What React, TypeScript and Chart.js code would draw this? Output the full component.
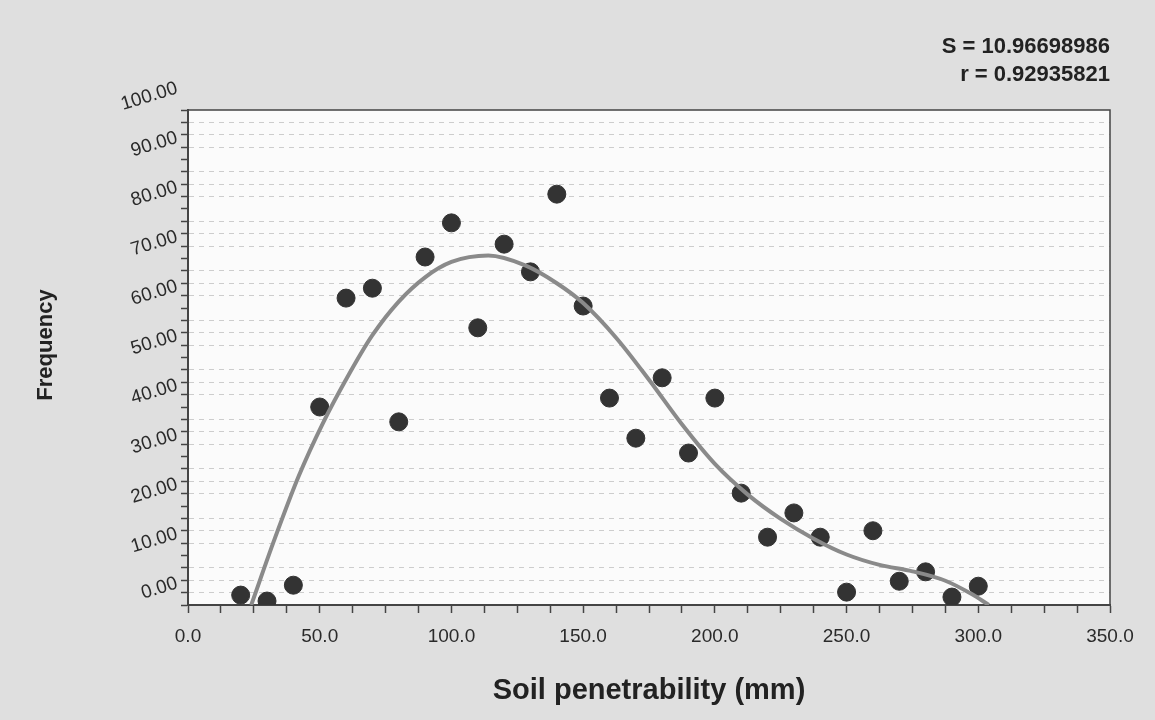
import React, { useEffect, useRef } from 'react';
import { Chart, registerables } from 'chart.js';

Chart.register(...registerables);

// Observed frequencies (scatter points)
const obsX = [20, 30, 40, 50, 60, 70, 80, 90, 100, 110, 120, 130, 140, 150, 160, 170, 180, 190, 200, 210, 220, 230, 240, 250, 260, 270, 280, 290, 300];
const obsY = [2.0, 0.8, 4.0, 40.0, 62.0, 64.0, 37.0, 70.3, 77.2, 56.0, 72.9, 67.3, 83.0, 60.4, 41.8, 33.7, 45.9, 30.7, 41.8, 22.6, 13.7, 18.6, 13.7, 2.6, 15.0, 4.8, 6.7, 1.6, 3.8];

// Fitted curve
const fitX = [24, 33, 42, 51, 61, 70, 80, 90, 100, 114, 128, 140, 150, 162.5, 175, 187.5, 200, 212.5, 225, 237.5, 250, 262.5, 275, 287.5, 297.5, 304];
const fitY = [0, 13.5, 26, 36.5, 46.5, 54.5, 61.3, 66.2, 69.3, 70.6, 68.6, 65, 61, 54, 45.5, 36.5, 28.5, 22.3, 17.4, 13.4, 10.2, 8.1, 6.8, 4.9, 2.2, 0];

const statLines = ['S = 10.96698986', 'r = 0.92935821'];
const xTitle = 'Soil penetrability (mm)';
const yTitle = 'Frequency';

const FONT = '"Liberation Sans", Arial, sans-serif';
const isMultiple = (v: number, m: number) => Math.abs(v / m - Math.round(v / m)) < 1e-6;

const framePlugin = {
  id: 'frame',
  beforeDraw(chart: any) {
    const { ctx, chartArea, width, height } = chart;
    ctx.save();
    ctx.fillStyle = '#dfdfdf';
    ctx.fillRect(0, 0, width, height);
    ctx.fillStyle = '#fbfbfb';
    ctx.fillRect(chartArea.left, chartArea.top, chartArea.right - chartArea.left, chartArea.bottom - chartArea.top);
    ctx.restore();
  },
  afterDraw(chart: any) {
    const { ctx, chartArea } = chart;
    ctx.save();
    ctx.strokeStyle = '#444';
    ctx.lineWidth = 1.5;
    ctx.beginPath();
    ctx.moveTo(chartArea.left, chartArea.top);
    ctx.lineTo(chartArea.right, chartArea.top);
    ctx.lineTo(chartArea.right, chartArea.bottom);
    ctx.stroke();
    ctx.fillStyle = '#222';
    ctx.font = `bold 22px ${FONT}`;
    ctx.textAlign = 'right';
    ctx.textBaseline = 'middle';
    statLines.forEach((t, i) => ctx.fillText(t, chartArea.right, 47 + i * 28));
    // y-axis title
    ctx.translate(46, 345);
    ctx.rotate(-Math.PI / 2);
    ctx.textAlign = 'center';
    ctx.font = `bold 22px ${FONT}`;
    ctx.fillText(yTitle, 0, 0);
    ctx.restore();
  },
};

export default function App() {
  const ref = useRef<HTMLCanvasElement>(null);
  useEffect(() => {
    document.body.style.margin = '0';
    const chart = new Chart(ref.current as HTMLCanvasElement, {
      type: 'scatter',
      data: {
        datasets: [
          {
            label: 'fit',
            data: fitX.map((x, i) => ({ x, y: fitY[i] })),
            showLine: true,
            borderColor: '#8a8a8a',
            borderWidth: 4,
            pointRadius: 0,
            cubicInterpolationMode: 'monotone',
            order: 0,
          } as any,
          {
            label: 'observed',
            data: obsX.map((x, i) => ({ x, y: obsY[i] })),
            backgroundColor: '#333333',
            borderColor: '#333333',
            pointRadius: 9,
            pointHoverRadius: 9,
            order: 1,
          },
        ],
      },
      options: {
        responsive: false,
        animation: false,
        events: [],
        layout: { padding: { left: 28, right: 45, top: 110, bottom: 8 } },
        plugins: { legend: { display: false }, tooltip: { enabled: false } },
        scales: {
          x: {
            type: 'linear',
            min: 0,
            max: 350,
            afterFit: (s: any) => { s.height = 107; },
            border: { display: true, color: '#444', width: 2 },
            grid: { drawOnChartArea: false, drawTicks: true, tickLength: 8, tickColor: '#444', tickWidth: 1.5 },
            ticks: {
              stepSize: 12.5,
              autoSkip: false,
              maxRotation: 0,
              minRotation: 0,
              padding: 12,
              color: '#2a2a2a',
              font: { family: FONT, size: 19 },
              callback: (v: any) => (isMultiple(Number(v), 50) ? Number(v).toFixed(1) : ''),
            },
            title: {
              display: true,
              text: xTitle,
              color: '#222',
              font: { family: FONT, size: 29, weight: 'bold' },
            },
          },
          y: {
            type: 'linear',
            min: 0,
            max: 100,
            afterFit: (s: any) => { s.width = 160; },
            border: { display: true, color: '#444', width: 2, dash: [5, 5] },
            grid: {
              drawTicks: true,
              tickLength: 7,
              tickColor: '#444',
              tickWidth: 1.5,
              color: (c: any) => (c.tick && isMultiple(c.tick.value, 10) ? 'rgba(0,0,0,0)' : '#cdcdcd'),
              lineWidth: 1,
            },
            ticks: {
              stepSize: 2.5,
              autoSkip: false,
              maxTicksLimit: 100,
              minRotation: 17,
              maxRotation: 17,
              labelOffset: -22,
              padding: 4,
              color: '#2a2a2a',
              font: { family: FONT, size: 19 },
              callback: (v: any) => (isMultiple(Number(v), 10) ? Number(v).toFixed(2) : ''),
            },
          },
        },
      },
      plugins: [framePlugin],
    });
    return () => chart.destroy();
  }, []);
  return (
    <div style={{ width: 1155, height: 720 }}>
      <canvas ref={ref} width={1155} height={720} />
    </div>
  );
}
